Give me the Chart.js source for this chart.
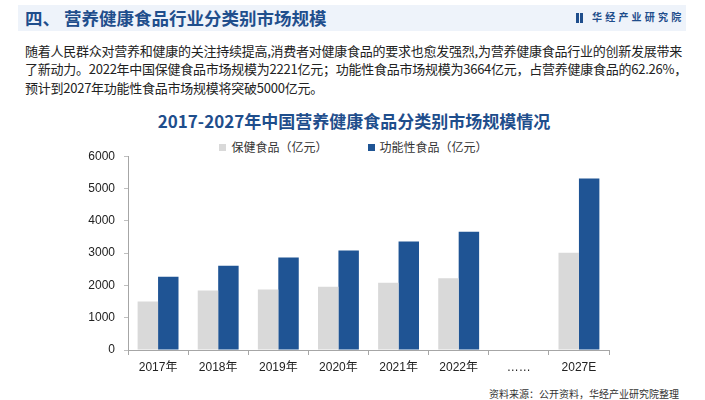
<!DOCTYPE html>
<html>
<head>
<meta charset="utf-8">
<script src="https://cdn.jsdelivr.net/npm/chart.js@4.4.1/dist/chart.umd.min.js"></script>
<style>
  body { margin: 0; width: 705px; height: 400px; background: #fff; position: relative; overflow: hidden;
         font-family: "Noto Sans CJK SC", "Noto Sans", sans-serif; }
  .band { position: absolute; left: 18px; top: 5px; width: 668px; height: 26px; background: #eef3fa; }
  .band h1 { position: absolute; left: 7px; top: 0; margin: 0; font-size: 17.5px; line-height: 26px;
             color: #1f4e8c; font-weight: bold; white-space: pre; }
  .logo { position: absolute; left: 558px; top: 13px; height: 10px; }
  .logo i { position: absolute; top: 0; width: 3px; height: 10px; background: #1f4e8c; }
  .logo span { position: absolute; top: -6px; font-size: 10px; line-height: 20px; font-weight: bold;
               color: #1f4e8c; letter-spacing: 3.2px; white-space: nowrap; }
  .para { position: absolute; left: 25px; top: 42px; font-size: 13px; line-height: 18.3px; color: #222;
          letter-spacing: -0.25px; white-space: nowrap; }
  .ctitle { position: absolute; left: 0; width: 705px; top: 110px; text-align: center; font-size: 17px;
            line-height: 22px; font-weight: bold; color: #1f4e8c; padding-left: 3px; box-sizing: border-box; }
  .legend { position: absolute; left: 0; width: 705px; top: 138px; display: flex; justify-content: center;
            gap: 40px; font-size: 12px; line-height: 18px; color: #333; padding-left: 2px; box-sizing: border-box; }
  .legend div { display: flex; align-items: center; }
  .legend b { display: inline-block; width: 7px; height: 7px; margin-right: 5px; }
  .wrap { position: absolute; left: 0; top: 140px; width: 705px; height: 245px; }
  .source { position: absolute; right: 26px; top: 386px; font-size: 10px; line-height: 16px; color: #333; }
</style>
</head>
<body>
<div class="band">
  <h1>四、 营养健康食品行业分类别市场规模</h1>
</div>
<div class="logo"><i style="left:18px"></i><i style="left:22px"></i><span style="left:34px">华经产业研究院</span></div>
<div class="para">随着人民群众对营养和健康的关注持续提高,消费者对健康食品的要求也愈发强烈,为营养健康食品行业的创新发展带来<br>了新动力。2022年中国保健食品市场规模为2221亿元；功能性食品市场规模为3664亿元，占营养健康食品的62.26%，<br>预计到2027年功能性食品市场规模将突破5000亿元。</div>
<div class="ctitle">2017-2027年中国营养健康食品分类别市场规模情况</div>
<div class="legend" id="legend"></div>
<div class="wrap"><canvas id="chart"></canvas></div>
<div class="source">资料来源：公开资料，华经产业研究院整理</div>

<script>
const years = ['2017年', '2018年', '2019年', '2020年', '2021年', '2022年', '……', '2027E'];
const healthFood = [1500, 1840, 1870, 1960, 2080, 2221, null, 3010];
const functionalFood = [2270, 2610, 2860, 3080, 3360, 3664, null, 5310];
const yTicks = [0, 1000, 2000, 3000, 4000, 5000, 6000];
const seriesNames = ['保健食品（亿元）', '功能性食品（亿元）'];
const seriesColors = ['#d9d9d9', '#1f5494'];

const axisFont = { family: '"Liberation Sans", "Noto Sans CJK SC", sans-serif', size: 12 };

const chart = new Chart(document.getElementById('chart'), {
  type: 'bar',
  data: {
    labels: years,
    datasets: [
      { label: seriesNames[0], data: healthFood, backgroundColor: seriesColors[0] },
      { label: seriesNames[1], data: functionalFood, backgroundColor: seriesColors[1] }
    ]
  },
  options: {
    responsive: true,
    maintainAspectRatio: false,
    animation: false,
    datasets: { bar: { categoryPercentage: 0.68, barPercentage: 1.0 } },
    layout: { padding: { left: 88, right: 96, top: 10, bottom: 9 } },
    plugins: { legend: { display: false }, tooltip: { enabled: false }, title: { display: false } },
    scales: {
      x: {
        grid: { drawOnChartArea: false, tickLength: 5, color: '#a6a6a6', offset: true },
        border: { color: '#a6a6a6' },
        ticks: { font: axisFont, color: '#222', padding: 5, maxRotation: 0 },
        afterFit: s => { s.height = 26; }
      },
      y: {
        min: yTicks[0],
        max: yTicks[yTicks.length - 1],
        afterBuildTicks: s => { s.ticks = yTicks.map(v => ({ value: v })); },
        grid: { drawOnChartArea: false, tickLength: 4, color: '#bfbfbf' },
        border: { color: '#a6a6a6' },
        ticks: { font: axisFont, color: '#222', padding: 9, callback: v => String(v) },
        afterFit: s => { s.width = 40; }
      }
    }
  }
});

// html legend built from the datasets
const lg = document.getElementById('legend');
chart.data.datasets.forEach(ds => {
  const d = document.createElement('div');
  d.innerHTML = `<b style="background:${ds.backgroundColor}"></b>${ds.label}`;
  lg.appendChild(d);
});
</script>
</body>
</html>
